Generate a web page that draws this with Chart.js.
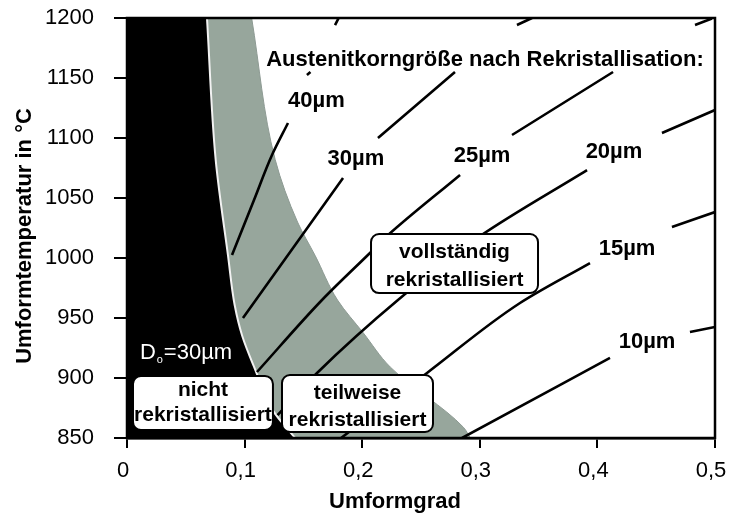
<!DOCTYPE html>
<html>
<head>
<meta charset="utf-8">
<script src="https://cdn.jsdelivr.net/npm/chart.js@4.4.0/dist/chart.umd.min.js"></script>
<style>
  html, body { margin: 0; padding: 0; background: #fff; }
  #wrap { width: 729px; height: 515px; position: relative; }
</style>
</head>
<body>
<div id="wrap"><canvas id="grainChart"></canvas></div>
<script>
// Achsen
var strainTicks = [0, 0.1, 0.2, 0.3, 0.4, 0.5];
var tempTicks = [850, 900, 950, 1000, 1050, 1100, 1150, 1200];

// Grenze nicht rekristallisiert (schwarze Flaeche links davon)
var noRexT = [850, 873, 907, 935, 961, 1002, 1082, 1200];
var noRexX = [0.143, 0.124, 0.109, 0.098, 0.0915, 0.0859, 0.0754, 0.068];

// Grenze teilweise / vollstaendig rekristallisiert (graue Flaeche)
var partRexT = [850, 859, 909, 937.5, 965, 1002, 1030, 1082, 1200];
var partRexX = [0.292, 0.286, 0.224, 0.201, 0.179, 0.160, 0.145, 0.126, 0.106];

// Linien gleicher Korngroesse (null = Luecke fuer Beschriftung)
var grainSizes = ['40µm', '30µm', '25µm', '20µm', '15µm', '10µm'];
var line40T = [1002.5, 1048.3, 1085.8, 1112.5, 1130, 1152.5, 1155, 1175, 1194, 1200];
var line40X = [0.0893, 0.108, 0.1233, 0.1369, null, 0.153, 0.156, null, 0.1769, 0.180];
var line30T = [950, 1066.7, 1085, 1100, 1155, 1175, 1194.2, 1200];
var line30X = [0.0986, 0.1837, null, 0.2134, 0.2789, null, 0.3316, 0.3444];
var line25T = [905, 965, 1006.7, 1018.3, 1069.2, 1085, 1102.5, 1155, 1175, 1194.2, 1199.5];
var line25X = [0.1105, 0.1658, 0.2092, 0.2211, 0.2832, null, 0.3274, 0.4133, null, 0.483, 0.4974];
var line20T = [869, 904.2, 965, 1018.3, 1073.3, 1090, 1104.2, 1123.3];
var line20X = [0.128, 0.1616, 0.2304, 0.3002, 0.3912, null, 0.4549, 0.5];
var line15T = [850, 904.2, 962.5, 995.8, 1010, 1025.8, 1038.3];
var line15X = [0.182, 0.2551, 0.3342, 0.3937, null, 0.4634, 0.5];
var line10T = [850, 916.7, 930, 938.3, 942.5];
var line10X = [0.2849, 0.4107, null, 0.4787, 0.5];

// Beschriftungen (Position in Datenkoordinaten, Grundlinie)
var sizeLabelPos = [
    { x: 0.1611, t: 1126 },
    { x: 0.1947, t: 1077.5 },
    { x: 0.3019, t: 1080 },
    { x: 0.4141, t: 1083.3 },
    { x: 0.4252, t: 1002.5 },
    { x: 0.4422, t: 925 }
];
var regionBoxes = [
    { lines: ['nicht', 'rekristallisiert'], x0: 0.0051, x1: 0.1241, t0: 856.7, t1: 901.7, cx: 0.0646, base: [885, 864.2] },
    { lines: ['teilweise', 'rekristallisiert'], x0: 0.1318, x1: 0.2602, t0: 855, t1: 902.5, cx: 0.196, base: [882.5, 860] },
    { lines: ['vollständig', 'rekristallisiert'], x0: 0.2075, x1: 0.3495, t0: 970.8, t1: 1020, cx: 0.2785, base: [1000, 976.3] }
];

var FONT = '"Liberation Sans", Arial, sans-serif';
Chart.defaults.font.family = FONT;
Chart.defaults.color = '#000';

function pts(xs, ts) {
    return ts.map(function (t, i) { return { x: xs[i], y: t }; });
}

function contour(xs, ts) {
    return {
        data: pts(xs, ts),
        borderColor: '#000',
        borderWidth: 2.6,
        fill: false,
        cubicInterpolationMode: 'monotone',
        pointRadius: 0,
        order: 0
    };
}

function roundBox(c, x, y, w, h, r) {
    c.beginPath();
    c.moveTo(x + r, y);
    c.arcTo(x + w, y, x + w, y + h, r);
    c.arcTo(x + w, y + h, x, y + h, r);
    c.arcTo(x, y + h, x, y, r);
    c.arcTo(x, y, x + w, y, r);
    c.closePath();
}

var overlay = {
    id: 'overlay',
    afterDraw: function (chart) {
        var c = chart.ctx, a = chart.chartArea;
        var sx = chart.scales.x, sy = chart.scales.y;
        c.save();

        // Rahmen
        c.strokeStyle = '#000';
        c.lineWidth = 2.5;
        c.strokeRect(a.left, a.top, a.right - a.left, a.bottom - a.top);

        // Titel im Diagramm
        c.fillStyle = '#000';
        c.textAlign = 'center';
        c.textBaseline = 'alphabetic';
        c.font = 'bold 22px ' + FONT;
        c.fillText('Austenitkorngröße nach Rekristallisation:', sx.getPixelForValue(0.3044), sy.getPixelForValue(1160.3));

        // Korngroessen
        grainSizes.forEach(function (s, i) {
            var p = sizeLabelPos[i];
            c.fillText(s, sx.getPixelForValue(p.x), sy.getPixelForValue(p.t));
        });

        // Bereichskaesten
        regionBoxes.forEach(function (b) {
            var x0 = sx.getPixelForValue(b.x0), x1 = sx.getPixelForValue(b.x1);
            var y0 = sy.getPixelForValue(b.t1), y1 = sy.getPixelForValue(b.t0);
            roundBox(c, x0, y0, x1 - x0, y1 - y0, 8);
            c.fillStyle = '#fff';
            c.fill();
            c.lineWidth = 2;
            c.strokeStyle = '#000';
            c.stroke();
            c.fillStyle = '#000';
            c.font = 'bold 21px ' + FONT;
            b.lines.forEach(function (txt, k) {
                c.fillText(txt, sx.getPixelForValue(b.cx), sy.getPixelForValue(b.base[k]));
            });
        });

        // Ausgangskorngroesse
        c.fillStyle = '#fff';
        c.textAlign = 'left';
        c.font = '22px ' + FONT;
        var dx = sx.getPixelForValue(0.011), dy = sy.getPixelForValue(915.8);
        c.fillText('D', dx, dy);
        var w = c.measureText('D').width;
        c.font = '11px ' + FONT;
        c.fillText('o', dx + w + 1, dy + 4);
        c.font = '22px ' + FONT;
        c.fillText('=30µm', dx + w + 8, dy);

        // Achsentitel
        c.fillStyle = '#000';
        c.textAlign = 'center';
        c.font = 'bold 22px ' + FONT;
        c.fillText('Umformgrad', 395, 508);
        c.translate(31, 236);
        c.rotate(-Math.PI / 2);
        c.fillText('Umformtemperatur in °C', 0, 0);
        c.restore();
    }
};

var ctx = document.getElementById('grainChart').getContext('2d');
var chart = new Chart(ctx, {
    type: 'line',
    data: {
        datasets: [
            {
                label: 'teilweise rekristallisiert',
                data: pts(partRexX, partRexT),
                borderColor: '#8d9a93',
                borderWidth: 1,
                backgroundColor: '#97a69c',
                fill: { value: 0 },
                cubicInterpolationMode: 'monotone',
                pointRadius: 0,
                order: 2
            },
            {
                label: 'nicht rekristallisiert',
                data: pts(noRexX, noRexT),
                borderColor: '#f2f2f2',
                borderWidth: 2,
                backgroundColor: '#000',
                fill: { value: 0 },
                cubicInterpolationMode: 'monotone',
                pointRadius: 0,
                order: 1
            },
            contour(line40X, line40T),
            contour(line30X, line30T),
            contour(line25X, line25T),
            contour(line20X, line20T),
            contour(line15X, line15T),
            contour(line10X, line10T)
        ]
    },
    options: {
        indexAxis: 'y',
        responsive: true,
        maintainAspectRatio: false,
        animation: false,
        events: [],
        layout: { padding: { left: 0, right: 14, top: 18, bottom: 0 } },
        plugins: {
            legend: { display: false },
            tooltip: { enabled: false }
        },
        scales: {
            x: {
                type: 'linear',
                position: 'bottom',
                min: strainTicks[0],
                max: strainTicks[strainTicks.length - 1],
                afterBuildTicks: function (s) {
                    s.ticks = strainTicks.map(function (v) { return { value: v }; });
                },
                afterFit: function (s) {
                    s.height = 77;
                    s.paddingLeft = 0;
                    s.paddingRight = 0;
                },
                ticks: {
                    font: { size: 22 },
                    padding: 10,
                    labelOffset: -4,
                    maxRotation: 0,
                    callback: function (v) {
                        return v === 0 ? '0' : Number(v).toFixed(1).replace('.', ',');
                    }
                },
                grid: { display: true, drawOnChartArea: false, drawTicks: true, tickLength: 10, color: '#000', lineWidth: 2 },
                border: { display: true, color: '#000', width: 2.5 }
            },
            y: {
                type: 'linear',
                position: 'left',
                min: tempTicks[0],
                max: tempTicks[tempTicks.length - 1],
                afterBuildTicks: function (s) {
                    s.ticks = tempTicks.map(function (v) { return { value: v }; });
                },
                afterFit: function (s) {
                    s.width = 127;
                    s.paddingTop = 0;
                    s.paddingBottom = 0;
                },
                ticks: {
                    font: { size: 22 },
                    padding: 20,
                    callback: function (v) {
                        return String(v);
                    }
                },
                grid: { display: true, drawOnChartArea: false, drawTicks: true, tickLength: 13, color: '#000', lineWidth: 2 },
                border: { display: true, color: '#000', width: 2.5 }
            }
        }
    },
    plugins: [overlay]
});
</script>
</body>
</html>
